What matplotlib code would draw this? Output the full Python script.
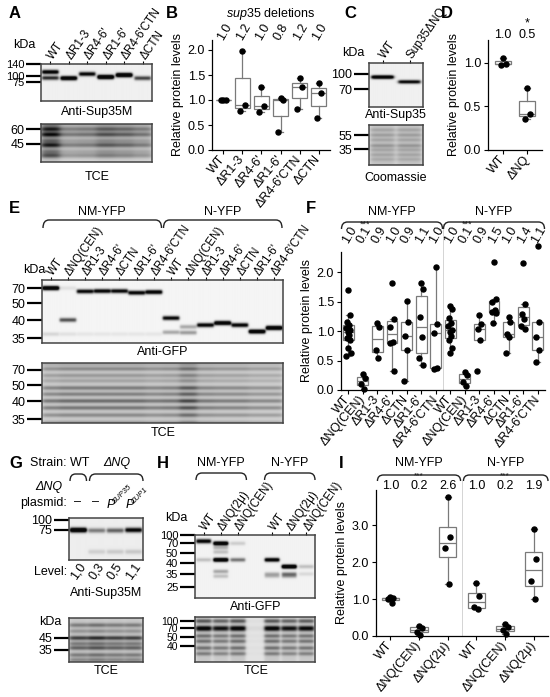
import numpy as np
import matplotlib
matplotlib.use('Agg')
import matplotlib.pyplot as plt
from matplotlib.path import Path
from matplotlib.patches import PathPatch
from matplotlib.transforms import IdentityTransform

plt.rcParams['font.family'] = ['Liberation Sans', 'DejaVu Sans']
plt.rcParams['mathtext.fontset'] = 'custom'
plt.rcParams['mathtext.rm'] = 'Liberation Sans'
plt.rcParams['mathtext.it'] = 'Liberation Sans:italic'
plt.rcParams['font.size'] = 9

# ---------------- DATA ----------------
# Panel A (blot: bands as (kDa, intensity) per lane)
A_lanes = ['WT', 'ΔR1-3', "ΔR4-6'", "ΔR1-6'", "ΔR4-6'CTN", 'ΔCTN']
A_ladder = [140, 100, 75]
A_bands = [[(109, 1.1), (87, 0.8)], [(86, 1.3)], [(103, 1.0)], [(91, 1.5)],
           [(100, 1.5)], [(86, 0.7)]]
A_tce_ladder = [60, 45]
A_tce_kda = [66, 60, 54, 48, 44, 39, 36]
A_tce_int = [0.2, 0.45, 0.5, 0.25, 0.45, 0.2, 0.3]
A_tce_load = [1.5, 0.7, 0.75, 1.0, 0.9, 0.75]

# Panel B
B_cats = ['WT', 'ΔR1-3', "ΔR4-6'", "ΔR1-6'", "ΔR4-6'CTN", 'ΔCTN']
B_vals = [[1.0, 1.0, 1.0], [1.98, 0.90, 0.79], [1.27, 0.89, 0.77],
          [1.05, 1.00, 0.36], [1.44, 1.26, 0.82], [1.34, 1.14, 0.64]]
B_mean_txt = ['1.0', '1.2', '1.0', '0.8', '1.2', '1.0']

# Panel C
C_lanes = ['WT', 'Sup35ΔNQ']
C_ladder = [100, 70]
C_bands = [[(93, 1.3)], [(83, 1.0)]]
C_coo_ladder = [55, 35]
C_coo_kda = [65, 55, 47, 39, 34, 29, 25]
C_coo_int = [0.12, 0.15, 0.12, 0.18, 0.12, 0.12, 0.1]
C_coo_load = [1.0, 1.0]

# Panel D
D_cats = ['WT', 'ΔNQ']
D_vals = [[1.05, 0.99, 0.97], [0.71, 0.41, 0.36]]
D_mean_txt = ['1.0', '0.5']
D_sig = ['', '*']

# Panel E
E_lanes = ['WT', 'ΔNQ(CEN)', 'ΔR1-3', "ΔR4-6'", 'ΔCTN', "ΔR1-6'", "ΔR4-6'CTN"] * 2
E_groups = ['NM-YFP', 'N-YFP']
E_ladder = [70, 50, 40, 35]
E_bands = [
    [(70, 1.4), (36, 0.12)],
    [(40, 0.65), (70, 0.08), (36, 0.08)],
    [(65, 1.0), (36, 0.06)],
    [(65.5, 1.05), (36, 0.06)],
    [(65.5, 1.0), (36, 0.06)],
    [(63, 1.05), (36, 0.06)],
    [(64, 1.15), (36, 0.06)],
    [(41, 1.0), (36.5, 0.3)],
    [(38, 0.3), (36.4, 0.35)],
    [(38.5, 1.05)],
    [(39.1, 1.3)],
    [(38.5, 1.05)],
    [(36.7, 1.3)],
    [(37.7, 1.4)],
]
E_tce_ladder = [70, 50, 40, 35]
E_tce_kda = [80, 72, 62, 55, 48, 44, 40, 38, 36, 34]
E_tce_int = [0.14, 0.26, 0.2, 0.16, 0.32, 0.3, 0.38, 0.34, 0.26, 0.22]
E_tce_load = [0.9, 1.0, 1.0, 1.0, 1.0, 1.0, 0.9, 0.95, 1.35, 0.9, 0.85, 0.85, 0.75, 0.75]

# Panel F
F_cats = E_lanes
F_vals = [
    [1.69, 1.28, 1.15, 1.10, 1.05, 1.02, 0.98, 0.93, 0.88, 0.85, 0.72, 0.62, 0.58],
    [0.27, 0.21, 0.10, 0.01],
    [1.13, 1.06, 0.67, 0.55],
    [1.81, 1.21, 1.07, 0.82, 0.80, 0.33],
    [1.51, 1.16, 0.92, 0.68, 0.15],
    [1.81, 1.72, 1.23, 0.90, 0.54, 0.43],
    [2.09, 1.12, 0.96, 0.37, 0.36],
    [1.43, 1.37, 1.22, 1.14, 1.08, 1.02, 0.98, 0.92, 0.84, 0.72, 0.63],
    [0.31, 0.26, 0.13, 0.06],
    [1.27, 1.12, 1.04, 0.84, 0.32],
    [2.17, 1.54, 1.49, 1.36, 1.33, 1.30, 1.14],
    [1.24, 1.16, 0.95, 0.90, 0.63],
    [2.16, 1.45, 1.29, 1.20, 1.08, 1.04],
    [2.45, 1.16, 0.90, 0.68, 0.47],
]
F_mean_txt = ['1.0', '0.1', '0.9', '1.0', '0.9', '1.1', '1.0',
              '1.0', '0.1', '0.9', '1.5', '1.0', '1.4', '1.1']
F_sig = ['', '***', '', '', '', '', '', '', '***', '', '', '', '', '']

# Panel G
G_strains = ['WT', 'ΔNQ']
G_plasmid = ['–', '–', 'SUP35', 'CUP1']
G_levels = ['1,0', '0,3', '0,5', '1,1']
G_ladder = [100, 75]
G_bands = [[(75, 1.35)], [(74, 0.45), (40, 0.12)], [(74, 0.55), (40, 0.14)],
           [(75, 1.0), (40, 0.15)]]
G_tce_ladder = [45, 35]
G_tce_kda = [59, 52, 45, 40, 36.5, 31.5, 28.4]
G_tce_int = [0.3, 0.2, 0.55, 0.3, 0.4, 0.3, 0.25]
G_tce_load = [1.0, 1.15, 1.0, 1.0]

# Panel H
H_lanes = ['WT', 'ΔNQ(2μ)', 'ΔNQ(CEN)', '', 'WT', 'ΔNQ(2μ)', 'ΔNQ(CEN)']
H_groups = ['NM-YFP', 'N-YFP']
H_ladder = [100, 70, 50, 40, 35, 25]
H_bands = [
    [(75, 0.55), (71, 0.6), (42, 0.2)],
    [(67, 1.4), (58, 0.25), (50, 0.2), (42, 1.4), (36, 0.3), (33, 0.2)],
    [(67, 0.15), (42, 0.5)],
    [],
    [(42, 1.15), (35, 0.25), (33, 0.2)],
    [(38, 1.5), (35, 0.45), (33, 0.3)],
    [(38, 0.2), (35, 0.1)],
]
H_tce_ladder = [100, 70, 50, 40]
H_tce_kda = [100, 72, 66, 52, 45, 38, 33]
H_tce_int = [0.45, 0.6, 0.5, 0.35, 0.35, 0.35, 0.3]
H_tce_load = [1.0, 0.9, 1.0, 0.05, 1.0, 0.9, 0.95]

# Panel I
I_cats = ['WT', 'ΔNQ(CEN)', 'ΔNQ(2μ)'] * 2
I_groups = ['NM-YFP', 'N-YFP']
I_vals = [[1.05, 1.03, 1.01, 0.88], [0.28, 0.22, 0.12, 0.02], [3.77, 2.67, 2.38, 1.42],
          [1.43, 1.08, 0.78, 0.72], [0.32, 0.25, 0.15, 0.05], [2.90, 2.07, 1.48, 1.00]]
I_mean_txt = ['1.0', '0.2', '2.6', '1.0', '0.2', '1.9']
I_sig = ['', '***', '', '', '***', '']

# ---------------- STYLE / LAYOUT ----------------
W, H = 550, 697
GRAY = '#7a7a7a'
JIT = np.array([0.0, 0.16, -0.14, 0.08, -0.2, 0.2, -0.06, 0.04, -0.12, 0.14, -0.03, 0.22, -0.18])

fig = plt.figure(figsize=(W / 100, H / 100), dpi=100)
fig.patch.set_facecolor('white')


def add_ax(b):
    x0, y0, x1, y1 = b
    return fig.add_axes([x0 / W, 1 - y1 / H, (x1 - x0) / W, (y1 - y0) / H])


def T(x, y, s, **kw):
    kw.setdefault('ha', 'center')
    kw.setdefault('va', 'center')
    kw.setdefault('fontsize', 9)
    return fig.text(x / W, 1 - y / H, s, **kw)


def letter(x, y, s):
    T(x, y, s, ha='left', fontsize=12, fontweight='bold')


def bracket(x0, x1, ytop, ybot, r=6):
    r = min(r, (x1 - x0) / 3)
    pts = [(x0, ybot), (x0, ytop), (x0 + r, ytop), (x1 - r, ytop), (x1, ytop), (x1, ybot)]
    verts = [(x, H - y) for x, y in pts]
    codes = [Path.MOVETO, Path.CURVE3, Path.CURVE3, Path.LINETO, Path.CURVE3, Path.CURVE3]
    fig.add_artist(PathPatch(Path(verts, codes), fill=False, lw=1.0, ec='#222',
                             transform=IdentityTransform()))


def xpx(ax, x):
    return ax.transData.transform((x, ax.get_ylim()[0]))[0]


def mig(k, lk, ly):
    xs = -np.log(np.asarray(lk, float))
    ys = np.asarray(ly, float)
    o = np.argsort(xs)
    xs, ys = xs[o], ys[o]
    x = -np.log(k)
    if x < xs[0]:
        return ys[0] + (x - xs[0]) * (ys[1] - ys[0]) / (xs[1] - xs[0])
    if x > xs[-1]:
        return ys[-1] + (x - xs[-1]) * (ys[-1] - ys[-2]) / (xs[-1] - xs[-2])
    return np.interp(x, xs, ys)


def tce_bands(kda, inten, loads):
    return [[(k, a * l) for k, a in zip(kda, inten)] for l in loads]


def blot(box, n, ladder_k, ladder_y, lanes_bands, bg=0.95, base=0.0, sigma=1.6,
         lane_w=0.88, soft=0.035, names=None, label_fs=8.5, ytick_fs=9):
    ax = add_ax(box)
    x0, y0, x1, y1 = box
    ys = np.linspace(y0, y1, max(int((y1 - y0) * 4), 10))
    xs = np.linspace(-0.5, n - 0.5, n * 60)
    dark = np.zeros((ys.size, xs.size))
    bases = np.broadcast_to(np.asarray(base, float), (n,))
    for i in range(n):
        prof = 1 / (1 + np.exp(-(lane_w / 2 - np.abs(xs - i)) / soft))
        col = np.full(ys.size, bases[i])
        for k, a in lanes_bands[i]:
            col = col + a * np.exp(-0.5 * ((ys - mig(k, ladder_k, ladder_y)) / sigma) ** 2)
        dark += np.outer(col, prof)
    img = np.clip(bg - dark, 0.03, 1)
    ax.imshow(img, cmap='gray', vmin=0, vmax=1, extent=(-0.5, n - 0.5, y1, y0),
              aspect='auto', interpolation='bilinear')
    ax.set_xlim(-0.5, n - 0.5)
    ax.set_ylim(y1, y0)
    ax.set_yticks(ladder_y)
    ax.set_yticklabels([str(k) for k in ladder_k])
    ax.tick_params(axis='y', length=10.5, width=1.6, pad=1.5, labelsize=ytick_fs)
    for s in ax.spines.values():
        s.set_linewidth(1.1)
        s.set_color('#444')
    if names:
        idx = [i for i, s in enumerate(names) if s]
        ax.xaxis.tick_top()
        ax.set_xticks(idx)
        ax.set_xticklabels([names[i] for i in idx], rotation=55, ha='left', va='center',
                           rotation_mode='anchor', fontsize=label_fs)
        ax.tick_params(axis='x', length=2.5, width=0.8, pad=1.5, top=True, bottom=False)
    else:
        ax.set_xticks([])
    return ax


def graph(box, cats, vals, xlim, ylim, yticks, width, rot=50, jit=1.0, fs=9):
    ax = add_ax(box)
    pos = np.arange(len(vals))
    ax.boxplot(vals, positions=pos, widths=width, whis=1.5, showfliers=False,
               patch_artist=True, capwidths=width * 0.35,
               medianprops=dict(color=GRAY, lw=0.9),
               boxprops=dict(edgecolor=GRAY, facecolor='white', lw=0.9),
               whiskerprops=dict(color=GRAY, lw=0.9), capprops=dict(color=GRAY, lw=0.9))
    for i, v in enumerate(vals):
        off = JIT[:len(v)] * width * jit
        ax.plot(i + off, v, 'o', ms=3.6, color='black', zorder=3, clip_on=False)
    ax.set_xlim(*xlim)
    ax.set_ylim(*ylim)
    ax.set_yticks(yticks)
    ax.set_yticklabels(['%.1f' % t for t in yticks])
    ax.set_xticks(pos)
    ax.set_xticklabels(cats, rotation=rot, ha='right', va='center', rotation_mode='anchor')
    for s in ['top', 'right']:
        ax.spines[s].set_visible(False)
    for s in ['left', 'bottom']:
        ax.spines[s].set_linewidth(0.9)
    ax.tick_params(length=3, width=0.8, labelsize=fs, pad=2)
    ax.set_ylabel('Relative protein levels', fontsize=9, labelpad=3)
    return ax


def top_texts(ax, txts, yfrac, rot=0, dx=0.0, fs=9):
    tr = ax.get_xaxis_transform()
    for i, s in enumerate(txts):
        if s:
            ax.text(i + dx, yfrac, s, transform=tr, rotation=rot, ha='center', va='center',
                    fontsize=fs, clip_on=False)


# ---------------- PANEL A ----------------
letter(9, 13, 'A')
T(13, 45, 'kDa', ha='left')
axA1 = blot((41, 64, 152, 101), 6, A_ladder, [63, 75, 81], A_bands, bg=0.94, sigma=1.5,
            names=A_lanes, label_fs=8.5, ytick_fs=8)
T(97, 112, 'Anti-Sup35M')
blot((41, 124, 152, 162), 6, A_tce_ladder, [129, 144],
     tce_bands(A_tce_kda, A_tce_int, A_tce_load), bg=0.88, base=np.array(A_tce_load) * 0.08,
     sigma=1.8, lane_w=1.0, soft=0.09)
T(97, 177, 'TCE')

# ---------------- PANEL B ----------------
letter(166, 13, 'B')
T(271, 14, r'$\it{sup35}$ deletions')
axB = graph((212, 40, 330, 150), B_cats, B_vals, (-0.6, 5.6), (0, 2.2),
            [0, 0.5, 1.0, 1.5, 2.0], 0.78)
top_texts(axB, B_mean_txt, 1.07, rot=60, dx=0.05)

# ---------------- PANEL C ----------------
letter(344, 13, 'C')
T(342, 53, 'kDa', ha='left')
blot((369, 63, 423, 107), 2, C_ladder, [74, 89], C_bands, bg=0.94, sigma=1.3,
     names=C_lanes, lane_w=0.82)
T(396, 115, 'Anti-Sup35')
blot((369, 125, 423, 165), 2, C_coo_ladder, [135, 149],
     tce_bands(C_coo_kda, C_coo_int, C_coo_load), bg=0.88, base=0.12, sigma=1.3,
     lane_w=0.92, soft=0.05)
T(396, 178, 'Coomassie')

# ---------------- PANEL D ----------------
letter(441, 13, 'D')
axD = graph((488, 40, 542, 150), D_cats, D_vals, (-0.625, 1.625), (0, 1.26),
            [0, 0.5, 1.0], 0.7)
top_texts(axD, D_mean_txt, 1.045)
top_texts(axD, D_sig, 1.155)

# ---------------- PANEL E ----------------
letter(9, 209, 'E')
T(45, 270, 'kDa', ha='right')
axE1 = blot((42, 280, 283, 343), 14, E_ladder, [288, 303, 320, 338], E_bands, bg=0.96,
            sigma=1.5, lane_w=0.96, names=E_lanes, label_fs=8.3)
for g, (a, b) in zip(E_groups, [(-0.5, 6.5), (6.5, 13.5)]):
    xa, xb = xpx(axE1, a) + 1, xpx(axE1, b) - 1
    bracket(xa, xb, 220, 228)
    T((xa + xb) / 2, 212, g)
T(163, 352, 'Anti-GFP')
blot((42, 363, 283, 423), 14, E_tce_ladder, [370, 385, 401, 419],
     tce_bands(E_tce_kda, E_tce_int, E_tce_load), bg=0.88,
     base=np.array(E_tce_load) * 0.08, sigma=1.5, lane_w=1.0, soft=0.08)
T(163, 433, 'TCE')

# ---------------- PANEL F ----------------
letter(306, 209, 'F')
axF = graph((341, 252, 545, 390), F_cats, F_vals, (-0.5, 13.5), (0, 2.34),
            [0, 0.5, 1.0, 1.5, 2.0], 0.75, fs=9)
axF.axvline(6.5, 0, 1.2, color='#d4d4d4', lw=0.7, clip_on=False, zorder=0)
top_texts(axF, F_mean_txt, 1.125, rot=60, dx=0.1)
top_texts(axF, F_sig, 1.2, dx=0.15, fs=6.5)
for g, (a, b) in zip(['NM-YFP', 'N-YFP'], [(-0.5, 6.5), (6.5, 13.5)]):
    xa, xb = xpx(axF, a), xpx(axF, b)
    bracket(xa + 0.5, xb - 0.5, 222, 229)
    T((xa + xb) / 2, 212, g)

# ---------------- PANEL G ----------------
letter(9, 463, 'G')
axG1 = blot((69, 518, 143, 560), 4, G_ladder, [520, 530], G_bands, bg=0.93, sigma=1.7,
            lane_w=0.9)
gx = [xpx(axG1, i) for i in range(4)]
T(30, 463, 'Strain: ' + G_strains[0], ha='left')
T((gx[1] + gx[3]) / 2 + 2, 463, G_strains[1], fontstyle='italic')
bracket(xpx(axG1, -0.5) + 1, xpx(axG1, 0.5) - 1, 474, 481)
bracket(xpx(axG1, 0.5) + 2, xpx(axG1, 3.5), 474, 481)
T(35, 487, 'ΔNQ', ha='left', fontstyle='italic')
T(20, 503, 'plasmid:', ha='left')
for i, p in enumerate(G_plasmid):
    if p == '–':
        T(gx[i] - 1, 502, p)
    else:
        T(gx[i] - 4, 505, 'P', fontstyle='italic')
        T(gx[i] + 1, 505, p, fontsize=5.5, fontstyle='italic', rotation=45, ha='left',
          va='bottom', rotation_mode='anchor')
T(67, 572, 'Level:', ha='right')
for i, s in enumerate(G_levels):
    T(gx[i], 571, s, rotation=55)
T(106, 593, 'Anti-Sup35M')
T(50, 622, 'kDa')
blot((69, 618, 143, 662), 4, G_tce_ladder, [638, 650],
     tce_bands(G_tce_kda, G_tce_int, G_tce_load), bg=0.88, base=0.1, sigma=1.5,
     lane_w=0.97, soft=0.07)
T(106, 671, 'TCE')

# ---------------- PANEL H ----------------
letter(157, 463, 'H')
T(176, 518, 'kDa')
axH1 = blot((195, 535, 315, 598), 7, H_ladder, [534, 542, 552, 562, 574, 587], H_bands,
            bg=0.95, sigma=1.4, lane_w=0.85, names=H_lanes, label_fs=8.3, ytick_fs=8)
for g, (a, b) in zip(H_groups, [(-0.5, 2.5), (3.5, 6.5)]):
    xa, xb = xpx(axH1, a), xpx(axH1, b)
    bracket(xa + 1, xb, 473, 480)
    T((xa + xb) / 2, 463, g)
T(256, 607, 'Anti-GFP')
blot((195, 617, 315, 662), 7, H_tce_ladder, [621, 628, 637, 646],
     tce_bands(H_tce_kda, H_tce_int, H_tce_load), bg=0.9,
     base=np.array(H_tce_load) * 0.12, sigma=1.4, lane_w=0.9, soft=0.05, ytick_fs=7.5)
T(256, 671, 'TCE')

# ---------------- PANEL I ----------------
letter(339, 463, 'I')
axI = graph((376, 490, 548, 636), I_cats, I_vals, (-0.5, 5.5), (0, 3.95),
            [0, 1.0, 2.0, 3.0], 0.6)
axI.axvline(2.5, 0, 1.06, color='#d4d4d4', lw=0.7, clip_on=False, zorder=0)
top_texts(axI, I_mean_txt, 1.03)
top_texts(axI, I_sig, 1.1, fs=6)
for g, (a, b) in zip(I_groups, [(-0.45, 2.45), (2.55, 5.5)]):
    xa, xb = xpx(axI, a), xpx(axI, b)
    bracket(xa, xb, 475, 481)
    T((xa + xb) / 2, 463, g)

fig.savefig('out.png', dpi=100, facecolor='white')
